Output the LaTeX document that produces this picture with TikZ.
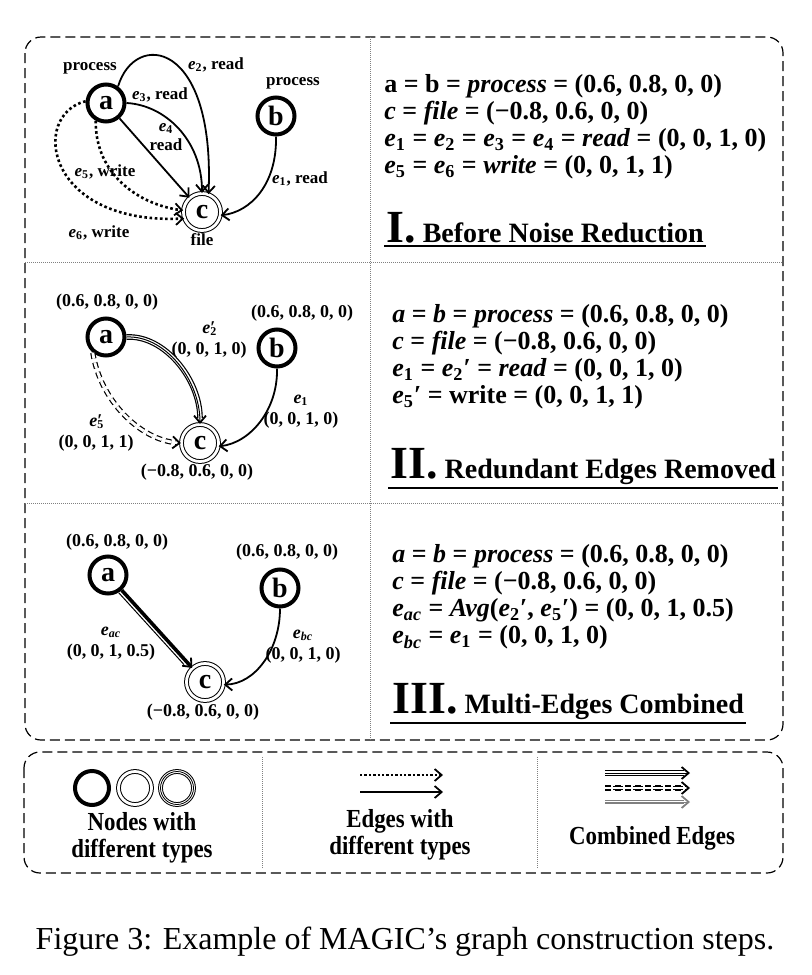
\documentclass[tikz,border=0pt]{standalone}
\usepackage[no-math]{fontspec}
\setmainfont{Liberation Serif}
\newfontfamily\legfont[FakeStretch=0.88]{Liberation Serif}
\usetikzlibrary{arrows.meta}
\newcommand{\ev}[1]{\textit{e}\textsubscript{#1}}
\newcommand{\evp}[1]{\textit{e}\textsubscript{#1}′}
\newcommand{\evq}[1]{\textit{e}\rlap{\textsubscript{#1}}′}

\begin{document}
\begin{tikzpicture}[x=0.5pt, y=-0.5pt]
  % styles
  \tikzstyle{proc node}=[circle, draw, line width=2pt, minimum size=18.5pt, inner sep=0pt, font=\bfseries\fontsize{14}{14}\selectfont]
  \tikzstyle{file node}=[circle, draw, double, line width=0.5pt, double distance=1.4pt, minimum size=18.5pt, inner sep=0pt, font=\bfseries\fontsize{14}{14}\selectfont]
  \tikzstyle{tag}=[inner sep=0.5pt, align=center, font=\bfseries\fontsize{8.5}{9.5}\selectfont]
  \tikzstyle{value tag}=[tag, font=\bfseries\fontsize{9}{10.5}\selectfont]
  \tikzstyle{read edge}=[-{Straight Barb[length=3.5pt,width=6pt,line width=0.9pt]}, line width=0.9pt]
  \tikzstyle{write edge}=[read edge, line width=1.3pt, dash pattern=on 1.3pt off 1.3pt]
  \tikzstyle{triple edge}=[read edge, line width=0.5pt, preaction={draw, -, line width=0.6pt, double, double distance=1.6pt, shorten >=3pt}]
  \tikzstyle{dashed pair}=[-{Straight Barb[length=3.5pt,width=6pt,line width=0.9pt,color=black]}, white, line width=0.3pt, preaction={draw=black, -, dash pattern=on 3pt off 2pt, line width=0.6pt, double=white, double distance=1.4pt, shorten >=2pt}]
  \tikzstyle{panel frame}=[dash pattern=on 5pt off 2.5pt, line width=0.6pt, rounded corners=8pt]
  \tikzstyle{divider}=[dash pattern=on 0.5pt off 0.5pt, line width=0.4pt, gray]
  \tikzstyle{formula}=[anchor=west, align=left, inner sep=0pt, font=\bfseries\fontsize{13}{13.5}\selectfont]
  \tikzstyle{stage title}=[anchor=west, inner sep=1pt, font=\bfseries\fontsize{14}{14}\selectfont]
  \tikzstyle{legend text}=[align=center, font=\legfont\bfseries\fontsize{13}{13.5}\selectfont]

  \useasboundingbox (0,0) rectangle (811,975);

  % frames
  \draw[panel frame] (25,37) rectangle (783,740);
  \draw[divider] (370,37) -- (370,740);
  \draw[divider] (25,262) -- (783,262);
  \draw[divider] (25,503) -- (783,503);
  \draw[panel frame] (24,752) rectangle (783,873);
  \draw[divider] (262,757) -- (262,868);
  \draw[divider] (537,757) -- (537,868);

  % I. before noise reduction
  \node[proc node] (a1) at (106,103) {a};
  \node[proc node] (b1) at (276,116) {b};
  \node[file node] (c1) at (202,212) {c};
  \node[tag] (pa1) at (90,68) {process};
  \node[tag] (pb1) at (293,83) {process};
  \node[tag] (fc1) at (202,240) {file};
  \draw[read edge] (a1.54) .. controls (135,30) and (215,40) .. (c1.70);
  \draw[read edge] (a1.east) .. controls (165,105) and (202,140) .. (c1.north);
  \draw[read edge] (a1) -- (c1);
  \draw[write edge] (a1.-120) .. controls (95,175) and (140,205) .. (c1.175);
  \draw[write edge] (a1.175) .. controls (30,115) and (45,225) .. (c1.200);
  \draw[read edge] (b1.south) .. controls (277,185) and (250,212) .. (c1.-10);
  \node[tag] (l2) at (216,65) {\ev{2}, read};
  \node[tag] (l3) at (160,95) {\ev{3}, read};
  \node[tag] (l4) at (166,137) {\ev{4}\\read};
  \node[tag] (l5) at (105,172) {\ev{5}, write};
  \node[tag] (l6) at (99,233) {\ev{6}, write};
  \node[tag] (l1) at (300,179) {\ev{1}, read};

  \node[formula] (f1) at (384,127) {a = b = \textit{process} = (0.6, 0.8, 0, 0)\\
    \textit{c} = \textit{file} = (−0.8, 0.6, 0, 0)\\
    \ev{1} = \ev{2} = \ev{3} = \ev{4} = \textit{read} = (0, 0, 1, 0)\\
    \ev{5} = \ev{6} = \textit{write} = (0, 0, 1, 1)};
  \node[stage title] (t1) at (384,228) {{\fontsize{23}{23}\selectfont I.}\ Before Noise Reduction};
  \draw[line width=1pt] (t1.south west) -- (t1.south east);

  % II. redundant edges removed
  \node[proc node] (a2) at (106,337) {a};
  \node[proc node] (b2) at (277,348) {b};
  \node[file node] (c2) at (200,443) {c};
  \node[value tag] (va2) at (107,302) {(0.6, 0.8, 0, 0)};
  \node[value tag] (vb2) at (302,313) {(0.6, 0.8, 0, 0)};
  \node[value tag] (vc2) at (197,472) {(−0.8, 0.6, 0, 0)};
  \draw[triple edge] (a2.east) .. controls (165,335) and (200,380) .. (c2.north);
  \draw[dashed pair] (a2.-130) .. controls (100,400) and (140,440) .. (c2.180);
  \draw[read edge] (b2.south) .. controls (278,410) and (250,443) .. (c2.-10);
  \node[value tag] (le2) at (209,340) {\evq{2}\\(0, 0, 1, 0)};
  \node[value tag] (le5) at (96,433) {\evq{5}\\(0, 0, 1, 1)};
  \node[value tag] (le1) at (301,412) {\ev{1}\\(0, 0, 1, 0)};

  \node[formula] (f2) at (392,357) {\textit{a} = \textit{b} = \textit{process} = (0.6, 0.8, 0, 0)\\
    \textit{c} = \textit{file} = (−0.8, 0.6, 0, 0)\\
    \ev{1} = \evp{2} = \textit{read} = (0, 0, 1, 0)\\
    \evp{5} = write = (0, 0, 1, 1)};
  \node[stage title] (t2) at (388,467) {{\fontsize{23}{23}\selectfont II.}\ Redundant Edges Removed};
  \draw[line width=1pt] (t2.south west) -- (t2.south east);

  % III. multi-edges combined
  \node[proc node] (a3) at (108,575) {a};
  \node[proc node] (b3) at (280,588) {b};
  \node[file node] (c3) at (205,682) {c};
  \node[value tag] (va3) at (117,542) {(0.6, 0.8, 0, 0)};
  \node[value tag] (vb3) at (287,552) {(0.6, 0.8, 0, 0)};
  \node[value tag] (vc3) at (203,712) {(−0.8, 0.6, 0, 0)};
  \draw[read edge, line width=1.8pt] (a3) -- (c3);
  \draw[line width=0.5pt, shorten >=4pt] ([xshift=-1.45pt,yshift=-1.3pt]a3.-48) -- ([xshift=-1.45pt,yshift=-1.3pt]c3.132);
  \draw[read edge] (b3.south) .. controls (280,650) and (255,684) .. (c3.-8);
  \node[value tag] (lac) at (111,644) {\ev{\textit{ac}}\\(0, 0, 1, 0.5)};
  \node[value tag] (lbc) at (303,647) {\ev{\textit{bc}}\\(0, 0, 1, 0)};

  \node[formula] (f3) at (392,597) {\textit{a} = \textit{b} = \textit{process} = (0.6, 0.8, 0, 0)\\
    \textit{c} = \textit{file} = (−0.8, 0.6, 0, 0)\\
    \ev{\textit{ac}} = \textit{Avg}(\evp{2}, \evp{5}) = (0, 0, 1, 0.5)\\
    \ev{\textit{bc}} = \ev{1} = (0, 0, 1, 0)};
  \node[stage title] (t3) at (390,702) {{\fontsize{23}{23}\selectfont III.}\ Multi-Edges Combined};
  \draw[line width=1pt] (t3.south west) -- (t3.south east);

  % legend
  \node[proc node, minimum size=17pt] (k1) at (92,788) {};
  \node[file node, minimum size=16.5pt] (k2) at (135,788) {};
  \node[file node, minimum size=16.5pt] (k3) at (177,788) {};
  \node[circle, draw, line width=0.4pt, minimum size=16.5pt, inner sep=0pt] (k3m) at (177,788) {};
  \node[legend text] (kt1) at (142,838) {Nodes with\\different types};

  \coordinate (d0) at (360,775);
  \coordinate (d1) at (443,775);
  \coordinate (s0) at (360,792);
  \coordinate (s1) at (443,792);
  \draw[write edge, line width=1.2pt, dash pattern=on 1.2pt off 1pt] (d0) -- (d1);
  \draw[read edge] (s0) -- (s1);
  \node[legend text] (kt2) at (400,835) {Edges with\\different types};

  \coordinate (m0) at (605,773);
  \coordinate (m1) at (690,773);
  \coordinate (n0) at (605,788);
  \coordinate (n1) at (690,788);
  \coordinate (o0) at (605,802);
  \coordinate (o1) at (690,802);
  \draw[triple edge] (m0) -- (m1);
  \draw[dashed pair, preaction={draw=black, -, dash pattern=on 1pt off 1pt, line width=0.6pt, double=white, double distance=1pt, shorten >=2pt}] (n0) -- (n1);
  \draw[read edge, gray, line width=0.5pt, preaction={draw=gray, -, line width=0.6pt, double, double distance=1.2pt, shorten >=3pt}] (o0) -- (o1);
  \node[legend text] (kt3) at (652,838) {Combined Edges};

  % caption
  \node[font=\fontsize{16}{16}\selectfont] (cap) at (405,942) {Figure 3: Example of MAGIC’s graph construction steps.};
\end{tikzpicture}
\end{document}
